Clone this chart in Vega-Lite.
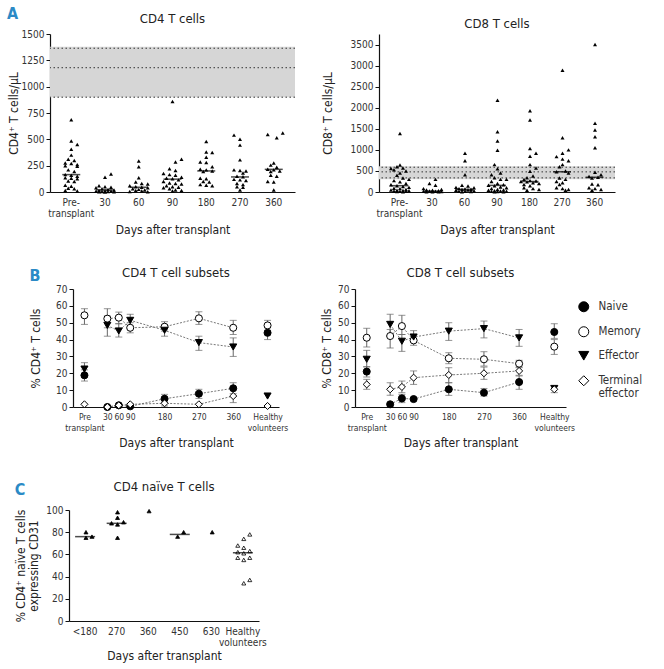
{
  "$schema": "https://vega.github.io/schema/vega-lite/v6.json",
  "background": "white",
  "padding": {"left": 7, "top": 6, "right": 5, "bottom": 5},
  "config": {
    "view": {"stroke": null},
    "font": "DejaVu Sans Condensed, Liberation Sans Narrow, Liberation Sans, sans-serif",
    "axis": {"grid": false, "domainColor": "#111", "tickColor": "#111", "labelColor": "#333", "labelFontSize": 10, "titleFontSize": 12, "titleFontWeight": "normal", "titleColor": "#222", "tickSize": 4, "labelPadding": 2, "domainWidth": 1.2, "labelOverlap": false},
    "axisX": {"ticks": false, "labelPadding": 5, "labelLineHeight": 11, "labelAngle": 0, "titlePadding": 6},
    "title": {"fontSize": 13, "fontWeight": "normal", "color": "#222"}
  },
  "resolve": {"scale": {"fill": "independent", "shape": "independent", "stroke": "independent"}, "legend": {"fill": "independent", "shape": "independent", "stroke": "independent"}},
  "spacing": 32,
  "vconcat": [
    {
      "title": {"text": "A", "anchor": "start", "frame": "bounds", "fontSize": 16, "fontWeight": "bold", "color": "#2b8ac6", "offset": -9},
      "spacing": 25,
      "hconcat": [
        {
          "width": 245, "height": 158,
          "title": {"text": "CD4 T cells", "offset": 3},
          "encoding": {"y": {"field": "value", "type": "quantitative", "scale": {"domain": [0, 1500], "nice": false}, "axis": {"values": [0, 250, 500, 750, 1000, 1250, 1500], "format": "d", "title": "CD4⁺ T cells/μL", "titlePadding": 1}}},
          "layer": [
            {"data": {"values": [{"value": 900, "value2": 1380}]}, "mark": {"type": "rect", "color": "#d6d6d6"}, "encoding": {"y2": {"field": "value2"}}},
            {"data": {"values": [{"value": 900}, {"value": 1180}, {"value": 1365}]}, "mark": {"type": "rule", "color": "#333", "strokeDash": [1.5, 2.5], "strokeWidth": 1}, "encoding": {}},
            {
              "data": {"values": [
                {"d": "Pre", "value": 685, "s": 0}, {"d": "Pre", "value": 485, "s": 0}, {"d": "Pre", "value": 450, "s": 2}, {"d": "Pre", "value": 405, "s": 0}, {"d": "Pre", "value": 350, "s": 0}, {"d": "Pre", "value": 310, "s": -1}, {"d": "Pre", "value": 300, "s": 1}, {"d": "Pre", "value": 275, "s": -2}, {"d": "Pre", "value": 270, "s": 0}, {"d": "Pre", "value": 260, "s": 2}, {"d": "Pre", "value": 250, "s": -2}, {"d": "Pre", "value": 245, "s": 2}, {"d": "Pre", "value": 210, "s": -1}, {"d": "Pre", "value": 195, "s": 1}, {"d": "Pre", "value": 165, "s": -2}, {"d": "Pre", "value": 160, "s": 0}, {"d": "Pre", "value": 150, "s": 2}, {"d": "Pre", "value": 135, "s": -2}, {"d": "Pre", "value": 130, "s": 0}, {"d": "Pre", "value": 125, "s": 2}, {"d": "Pre", "value": 105, "s": -1}, {"d": "Pre", "value": 100, "s": 1}, {"d": "Pre", "value": 65, "s": -2}, {"d": "Pre", "value": 55, "s": 0}, {"d": "Pre", "value": 35, "s": -1}, {"d": "Pre", "value": 30, "s": 1}, {"d": "Pre", "value": 15, "s": -2}, {"d": "Pre", "value": 10, "s": 2},
                {"d": "30", "value": 170, "s": 2}, {"d": "30", "value": 140, "s": 0}, {"d": "30", "value": 60, "s": -2}, {"d": "30", "value": 50, "s": 0}, {"d": "30", "value": 45, "s": 2}, {"d": "30", "value": 40, "s": -3}, {"d": "30", "value": 30, "s": -1}, {"d": "30", "value": 25, "s": 1}, {"d": "30", "value": 20, "s": 3}, {"d": "30", "value": 15, "s": -2}, {"d": "30", "value": 12, "s": 0}, {"d": "30", "value": 10, "s": 2}, {"d": "30", "value": 8, "s": -3}, {"d": "30", "value": 5, "s": -1}, {"d": "30", "value": 5, "s": 1}, {"d": "30", "value": 3, "s": 3}, {"d": "30", "value": 2, "s": -2}, {"d": "30", "value": 0, "s": 0},
                {"d": "60", "value": 295, "s": 0}, {"d": "60", "value": 240, "s": 0}, {"d": "60", "value": 135, "s": 0}, {"d": "60", "value": 95, "s": -1}, {"d": "60", "value": 80, "s": 1}, {"d": "60", "value": 75, "s": 3}, {"d": "60", "value": 60, "s": -3}, {"d": "60", "value": 50, "s": -1}, {"d": "60", "value": 45, "s": 1}, {"d": "60", "value": 40, "s": 3}, {"d": "60", "value": 30, "s": -2}, {"d": "60", "value": 25, "s": 0}, {"d": "60", "value": 20, "s": 2}, {"d": "60", "value": 15, "s": -1}, {"d": "60", "value": 10, "s": 1}, {"d": "60", "value": 5, "s": -3}, {"d": "60", "value": 3, "s": 3},
                {"d": "90", "value": 860, "s": 0}, {"d": "90", "value": 310, "s": 3}, {"d": "90", "value": 285, "s": 1}, {"d": "90", "value": 220, "s": -1}, {"d": "90", "value": 205, "s": 1}, {"d": "90", "value": 175, "s": -3}, {"d": "90", "value": 165, "s": -1}, {"d": "90", "value": 160, "s": 1}, {"d": "90", "value": 140, "s": 3}, {"d": "90", "value": 130, "s": -2}, {"d": "90", "value": 125, "s": 0}, {"d": "90", "value": 115, "s": 2}, {"d": "90", "value": 100, "s": -3}, {"d": "90", "value": 85, "s": -1}, {"d": "90", "value": 80, "s": 1}, {"d": "90", "value": 75, "s": 3}, {"d": "90", "value": 60, "s": -2}, {"d": "90", "value": 50, "s": 0}, {"d": "90", "value": 45, "s": 2}, {"d": "90", "value": 40, "s": -3}, {"d": "90", "value": 30, "s": -1}, {"d": "90", "value": 20, "s": 1}, {"d": "90", "value": 15, "s": 3}, {"d": "90", "value": 10, "s": 0},
                {"d": "180", "value": 480, "s": 0}, {"d": "180", "value": 380, "s": 0}, {"d": "180", "value": 375, "s": 2}, {"d": "180", "value": 330, "s": 0}, {"d": "180", "value": 285, "s": -2}, {"d": "180", "value": 280, "s": 0}, {"d": "180", "value": 240, "s": 2}, {"d": "180", "value": 215, "s": -2}, {"d": "180", "value": 210, "s": 0}, {"d": "180", "value": 200, "s": 2}, {"d": "180", "value": 195, "s": -1}, {"d": "180", "value": 130, "s": -2}, {"d": "180", "value": 125, "s": 0}, {"d": "180", "value": 100, "s": -1}, {"d": "180", "value": 95, "s": 1}, {"d": "180", "value": 70, "s": -2}, {"d": "180", "value": 65, "s": 0}, {"d": "180", "value": 60, "s": 2},
                {"d": "270", "value": 540, "s": -2}, {"d": "270", "value": 500, "s": 0}, {"d": "270", "value": 445, "s": 0}, {"d": "270", "value": 305, "s": 0}, {"d": "270", "value": 210, "s": -2}, {"d": "270", "value": 205, "s": 0}, {"d": "270", "value": 200, "s": 2}, {"d": "270", "value": 180, "s": 1}, {"d": "270", "value": 150, "s": -1}, {"d": "270", "value": 145, "s": 1}, {"d": "270", "value": 120, "s": -2}, {"d": "270", "value": 115, "s": 0}, {"d": "270", "value": 110, "s": 2}, {"d": "270", "value": 80, "s": -1}, {"d": "270", "value": 70, "s": 1}, {"d": "270", "value": 50, "s": -1}, {"d": "270", "value": 45, "s": 1}, {"d": "270", "value": 20, "s": 0},
                {"d": "360", "value": 560, "s": 3}, {"d": "360", "value": 545, "s": -2}, {"d": "360", "value": 515, "s": 1}, {"d": "360", "value": 275, "s": 0}, {"d": "360", "value": 255, "s": -1}, {"d": "360", "value": 235, "s": 1}, {"d": "360", "value": 215, "s": -2}, {"d": "360", "value": 210, "s": 0}, {"d": "360", "value": 200, "s": 2}, {"d": "360", "value": 195, "s": -1}, {"d": "360", "value": 160, "s": -1}, {"d": "360", "value": 150, "s": 1}, {"d": "360", "value": 100, "s": -2}, {"d": "360", "value": 95, "s": 0}, {"d": "360", "value": 20, "s": 0}
              ]},
              "mark": {"type": "point", "shape": "triangle-up", "filled": true, "color": "#000", "opacity": 1, "size": 16},
              "encoding": {
                "x": {"field": "d", "type": "nominal", "sort": ["Pre", "30", "60", "90", "180", "270", "360"], "scale": {"paddingInner": 0.2, "paddingOuter": 0.23}, "axis": {"title": "Days after transplant", "labelExpr": "datum.value == 'Pre' ? ['Pre-', 'transplant'] : datum.label"}},
                "xOffset": {"field": "s", "type": "ordinal", "scale": {"domain": [-4, -3, -2, -1, 0, 1, 2, 3, 4]}}
              }
            },
            {
              "data": {"values": [{"d": "Pre", "value": 165}, {"d": "30", "value": 20}, {"d": "60", "value": 45}, {"d": "90", "value": 122}, {"d": "180", "value": 200}, {"d": "270", "value": 143}, {"d": "360", "value": 215}]},
              "mark": {"type": "tick", "color": "#000", "thickness": 1.5, "size": 18, "orient": "horizontal"},
              "encoding": {"x": {"field": "d", "type": "nominal", "sort": ["Pre", "30", "60", "90", "180", "270", "360"]}}
            }
          ]
        },
        {
          "width": 236, "height": 158,
          "title": {"text": "CD8 T cells", "offset": 3, "frame": "group"},
          "encoding": {"y": {"field": "value", "type": "quantitative", "scale": {"domain": [0, 3750], "nice": false}, "axis": {"values": [0, 500, 1000, 1500, 2000, 2500, 3000, 3500], "format": "d", "title": "CD8⁺ T cells/μL", "titlePadding": 16}}},
          "layer": [
            {"data": {"values": [{"value": 300, "value2": 610}]}, "mark": {"type": "rect", "color": "#d6d6d6"}, "encoding": {"y2": {"field": "value2"}}},
            {"data": {"values": [{"value": 335}, {"value": 478}, {"value": 588}]}, "mark": {"type": "rule", "color": "#333", "strokeDash": [1.5, 2.5], "strokeWidth": 1}, "encoding": {}},
            {
              "data": {"values": [
                {"d": "Pre", "value": 1390, "s": 0}, {"d": "Pre", "value": 640, "s": 0}, {"d": "Pre", "value": 600, "s": -1}, {"d": "Pre", "value": 570, "s": 1}, {"d": "Pre", "value": 560, "s": -3}, {"d": "Pre", "value": 530, "s": -2}, {"d": "Pre", "value": 500, "s": 2}, {"d": "Pre", "value": 450, "s": 0}, {"d": "Pre", "value": 400, "s": -1}, {"d": "Pre", "value": 330, "s": 1}, {"d": "Pre", "value": 300, "s": 3}, {"d": "Pre", "value": 270, "s": -2}, {"d": "Pre", "value": 240, "s": 0}, {"d": "Pre", "value": 200, "s": 2}, {"d": "Pre", "value": 170, "s": -3}, {"d": "Pre", "value": 150, "s": -1}, {"d": "Pre", "value": 130, "s": 1}, {"d": "Pre", "value": 110, "s": 3}, {"d": "Pre", "value": 90, "s": -2}, {"d": "Pre", "value": 80, "s": 0}, {"d": "Pre", "value": 60, "s": 2}, {"d": "Pre", "value": 50, "s": -3}, {"d": "Pre", "value": 40, "s": -1}, {"d": "Pre", "value": 35, "s": 1}, {"d": "Pre", "value": 30, "s": 3}, {"d": "Pre", "value": 25, "s": -2}, {"d": "Pre", "value": 20, "s": 0}, {"d": "Pre", "value": 15, "s": 2}, {"d": "Pre", "value": 10, "s": -1}, {"d": "Pre", "value": 5, "s": 1},
                {"d": "30", "value": 300, "s": 1}, {"d": "30", "value": 200, "s": -1}, {"d": "30", "value": 160, "s": 1}, {"d": "30", "value": 80, "s": -3}, {"d": "30", "value": 60, "s": 3}, {"d": "30", "value": 50, "s": -2}, {"d": "30", "value": 40, "s": 0}, {"d": "30", "value": 30, "s": 2}, {"d": "30", "value": 25, "s": -1}, {"d": "30", "value": 20, "s": 1}, {"d": "30", "value": 15, "s": -3}, {"d": "30", "value": 10, "s": 3}, {"d": "30", "value": 8, "s": -2}, {"d": "30", "value": 5, "s": 0}, {"d": "30", "value": 3, "s": 2},
                {"d": "60", "value": 920, "s": 0}, {"d": "60", "value": 740, "s": 0}, {"d": "60", "value": 410, "s": 0}, {"d": "60", "value": 160, "s": -1}, {"d": "60", "value": 140, "s": 1}, {"d": "60", "value": 110, "s": -3}, {"d": "60", "value": 100, "s": 3}, {"d": "60", "value": 80, "s": -2}, {"d": "60", "value": 70, "s": 0}, {"d": "60", "value": 65, "s": 2}, {"d": "60", "value": 60, "s": -1}, {"d": "60", "value": 50, "s": 1}, {"d": "60", "value": 40, "s": -3}, {"d": "60", "value": 30, "s": 3}, {"d": "60", "value": 20, "s": -2}, {"d": "60", "value": 15, "s": 0}, {"d": "60", "value": 10, "s": 2}, {"d": "60", "value": 5, "s": -1},
                {"d": "90", "value": 2180, "s": 0}, {"d": "90", "value": 1430, "s": 0}, {"d": "90", "value": 1210, "s": 0}, {"d": "90", "value": 990, "s": 0}, {"d": "90", "value": 650, "s": -1}, {"d": "90", "value": 550, "s": 0}, {"d": "90", "value": 450, "s": 1}, {"d": "90", "value": 410, "s": -2}, {"d": "90", "value": 340, "s": -1}, {"d": "90", "value": 300, "s": 1}, {"d": "90", "value": 300, "s": 3}, {"d": "90", "value": 250, "s": -2}, {"d": "90", "value": 200, "s": 0}, {"d": "90", "value": 170, "s": 2}, {"d": "90", "value": 160, "s": -3}, {"d": "90", "value": 150, "s": -1}, {"d": "90", "value": 120, "s": 1}, {"d": "90", "value": 100, "s": 3}, {"d": "90", "value": 80, "s": -2}, {"d": "90", "value": 60, "s": 0}, {"d": "90", "value": 50, "s": 2}, {"d": "90", "value": 40, "s": -3}, {"d": "90", "value": 30, "s": -1}, {"d": "90", "value": 25, "s": 1}, {"d": "90", "value": 20, "s": 3}, {"d": "90", "value": 15, "s": -2}, {"d": "90", "value": 10, "s": 0}, {"d": "90", "value": 5, "s": 2}, {"d": "90", "value": 3, "s": -1},
                {"d": "180", "value": 1930, "s": 0}, {"d": "180", "value": 1710, "s": 0}, {"d": "180", "value": 1030, "s": 0}, {"d": "180", "value": 920, "s": 2}, {"d": "180", "value": 850, "s": 0}, {"d": "180", "value": 650, "s": 0}, {"d": "180", "value": 570, "s": 2}, {"d": "180", "value": 490, "s": 0}, {"d": "180", "value": 380, "s": 1}, {"d": "180", "value": 340, "s": -1}, {"d": "180", "value": 300, "s": -2}, {"d": "180", "value": 270, "s": 0}, {"d": "180", "value": 260, "s": 2}, {"d": "180", "value": 250, "s": -3}, {"d": "180", "value": 240, "s": -1}, {"d": "180", "value": 220, "s": 1}, {"d": "180", "value": 200, "s": 3}, {"d": "180", "value": 180, "s": -2}, {"d": "180", "value": 150, "s": 0}, {"d": "180", "value": 100, "s": -2}, {"d": "180", "value": 80, "s": 1}, {"d": "180", "value": 60, "s": 3}, {"d": "180", "value": 40, "s": -1},
                {"d": "270", "value": 2890, "s": 0}, {"d": "270", "value": 1290, "s": 0}, {"d": "270", "value": 1000, "s": 2}, {"d": "270", "value": 920, "s": 0}, {"d": "270", "value": 840, "s": -2}, {"d": "270", "value": 780, "s": 0}, {"d": "270", "value": 740, "s": 2}, {"d": "270", "value": 650, "s": 0}, {"d": "270", "value": 600, "s": -1}, {"d": "270", "value": 500, "s": 1}, {"d": "270", "value": 480, "s": -2}, {"d": "270", "value": 450, "s": 2}, {"d": "270", "value": 330, "s": -1}, {"d": "270", "value": 300, "s": 1}, {"d": "270", "value": 250, "s": -2}, {"d": "270", "value": 220, "s": 0}, {"d": "270", "value": 180, "s": -1}, {"d": "270", "value": 100, "s": -2}, {"d": "270", "value": 80, "s": 0}, {"d": "270", "value": 60, "s": 2}, {"d": "270", "value": 40, "s": 1},
                {"d": "360", "value": 3500, "s": 0}, {"d": "360", "value": 1630, "s": 0}, {"d": "360", "value": 1470, "s": 0}, {"d": "360", "value": 1310, "s": 0}, {"d": "360", "value": 1050, "s": 0}, {"d": "360", "value": 470, "s": 0}, {"d": "360", "value": 410, "s": 2}, {"d": "360", "value": 370, "s": -2}, {"d": "360", "value": 350, "s": 1}, {"d": "360", "value": 330, "s": -1}, {"d": "360", "value": 190, "s": -1}, {"d": "360", "value": 170, "s": 1}, {"d": "360", "value": 100, "s": -2}, {"d": "360", "value": 80, "s": 0}, {"d": "360", "value": 60, "s": 2}, {"d": "360", "value": 40, "s": -1}
              ]},
              "mark": {"type": "point", "shape": "triangle-up", "filled": true, "color": "#000", "opacity": 1, "size": 16},
              "encoding": {
                "x": {"field": "d", "type": "nominal", "sort": ["Pre", "30", "60", "90", "180", "270", "360"], "scale": {"paddingInner": 0.2, "paddingOuter": 0.23}, "axis": {"title": "Days after transplant", "labelExpr": "datum.value == 'Pre' ? ['Pre-', 'transplant'] : datum.label"}},
                "xOffset": {"field": "s", "type": "ordinal", "scale": {"domain": [-4, -3, -2, -1, 0, 1, 2, 3, 4]}}
              }
            },
            {
              "data": {"values": [{"d": "Pre", "value": 150}, {"d": "30", "value": 20}, {"d": "60", "value": 63}, {"d": "90", "value": 157}, {"d": "180", "value": 250}, {"d": "270", "value": 480}, {"d": "360", "value": 350}]},
              "mark": {"type": "tick", "color": "#000", "thickness": 1.5, "size": 18, "orient": "horizontal"},
              "encoding": {"x": {"field": "d", "type": "nominal", "sort": ["Pre", "30", "60", "90", "180", "270", "360"]}}
            }
          ]
        }
      ]
    },
    {
      "title": {"text": "B", "anchor": "start", "frame": "bounds", "fontSize": 16, "fontWeight": "bold", "color": "#2b8ac6", "offset": -17},
      "spacing": -25,
      "resolve": {"scale": {"fill": "independent", "shape": "independent", "stroke": "independent"}, "legend": {"fill": "independent", "shape": "independent", "stroke": "independent"}},
      "hconcat": [
        {"width": 1, "height": 1, "data": {"values": [{"v": 0}]}, "mark": {"type": "point", "opacity": 0}, "encoding": {}},
        {
          "spacing": 32,
          "resolve": {"scale": {"fill": "independent", "shape": "independent", "stroke": "independent"}, "legend": {"fill": "independent", "shape": "independent", "stroke": "independent"}},
          "hconcat": [
            {
              "width": 206, "height": 118,
              "title": {"text": "CD4 T cell subsets", "offset": 4},
              "data": {"values": [
                {"subset": "Memory", "day": -30, "mean": 54.4, "lo": 49.0, "hi": 58.3},
                {"subset": "Memory", "day": 30, "mean": 52.4, "lo": 47.0, "hi": 58.3},
                {"subset": "Memory", "day": 60, "mean": 53.0, "lo": 49.4, "hi": 56.3},
                {"subset": "Memory", "day": 90, "mean": 47.0, "lo": 44.0, "hi": 50.0},
                {"subset": "Memory", "day": 180, "mean": 47.6, "lo": 45.0, "hi": 50.6},
                {"subset": "Memory", "day": 270, "mean": 52.6, "lo": 49.0, "hi": 56.5},
                {"subset": "Memory", "day": 360, "mean": 47.0, "lo": 43.0, "hi": 51.4},
                {"subset": "Memory", "day": 450, "mean": 48.4, "lo": 45.5, "hi": 51.4},
                {"subset": "Effector", "day": -30, "mean": 22.5, "lo": 19.4, "hi": 26.3},
                {"subset": "Effector", "day": 30, "mean": 48.4, "lo": 42.0, "hi": 54.0},
                {"subset": "Effector", "day": 60, "mean": 45.1, "lo": 41.5, "hi": 49.4},
                {"subset": "Effector", "day": 90, "mean": 51.4, "lo": 47.0, "hi": 55.0},
                {"subset": "Effector", "day": 180, "mean": 45.5, "lo": 42.0, "hi": 48.4},
                {"subset": "Effector", "day": 270, "mean": 38.2, "lo": 33.6, "hi": 42.0},
                {"subset": "Effector", "day": 360, "mean": 35.6, "lo": 30.0, "hi": 41.0},
                {"subset": "Effector", "day": 450, "mean": 6.5, "lo": null, "hi": null},
                {"subset": "Naive", "day": -30, "mean": 18.8, "lo": 15.4, "hi": 22.0},
                {"subset": "Naive", "day": 30, "mean": 0.0, "lo": null, "hi": null},
                {"subset": "Naive", "day": 60, "mean": 1.0, "lo": null, "hi": null},
                {"subset": "Naive", "day": 90, "mean": 0.4, "lo": null, "hi": null},
                {"subset": "Naive", "day": 180, "mean": 4.9, "lo": 2.6, "hi": 7.5},
                {"subset": "Naive", "day": 270, "mean": 7.9, "lo": 5.1, "hi": 10.5},
                {"subset": "Naive", "day": 360, "mean": 11.1, "lo": 7.9, "hi": 14.4},
                {"subset": "Naive", "day": 450, "mean": 44.0, "lo": 40.0, "hi": 47.0},
                {"subset": "Terminal effector", "day": -30, "mean": 1.6, "lo": null, "hi": null},
                {"subset": "Terminal effector", "day": 30, "mean": 0.0, "lo": null, "hi": null},
                {"subset": "Terminal effector", "day": 60, "mean": 1.0, "lo": null, "hi": null},
                {"subset": "Terminal effector", "day": 90, "mean": 1.6, "lo": null, "hi": null},
                {"subset": "Terminal effector", "day": 180, "mean": 2.2, "lo": 0.6, "hi": 4.6},
                {"subset": "Terminal effector", "day": 270, "mean": 1.6, "lo": null, "hi": null},
                {"subset": "Terminal effector", "day": 360, "mean": 6.5, "lo": 2.6, "hi": 10.5},
                {"subset": "Terminal effector", "day": 450, "mean": 0.6, "lo": null, "hi": null}
              ]},
              "encoding": {
                "x": {"field": "day", "type": "quantitative", "scale": {"domain": [-60, 480], "nice": false, "zero": false}, "axis": {"values": [-30, 30, 60, 90, 180, 270, 360, 450], "labelFontSize": 8.5, "title": "Days after transplant", "labelExpr": "datum.value == -30 ? ['Pre', 'transplant'] : datum.value == 450 ? ['Healthy', 'volunteers'] : datum.label"}}
              },
              "layer": [
                {"transform": [{"filter": "datum.day >= 30 && datum.day <= 360"}], "mark": {"type": "line", "color": "#555", "strokeWidth": 0.8, "strokeDash": [2, 1.5]}, "encoding": {"y": {"field": "mean", "type": "quantitative", "scale": {"domain": [0, 70], "nice": false}, "axis": {"values": [0, 10, 20, 30, 40, 50, 60, 70], "title": "% CD4⁺ T cells", "titlePadding": 13}}, "detail": {"field": "subset"}}},
                {"transform": [{"filter": "datum.lo != null"}], "mark": {"type": "rule", "color": "#666", "strokeWidth": 1}, "encoding": {"y": {"field": "lo", "type": "quantitative", "scale": {"domain": [0, 70], "nice": false}, "axis": {"values": [0, 10, 20, 30, 40, 50, 60, 70], "title": "% CD4⁺ T cells", "titlePadding": 13}}, "y2": {"field": "hi"}}},
                {"transform": [{"filter": "datum.lo != null"}], "mark": {"type": "tick", "orient": "horizontal", "color": "#666", "size": 7, "thickness": 1}, "encoding": {"y": {"field": "lo", "type": "quantitative", "scale": {"domain": [0, 70], "nice": false}, "axis": {"values": [0, 10, 20, 30, 40, 50, 60, 70], "title": "% CD4⁺ T cells", "titlePadding": 13}}}},
                {"transform": [{"filter": "datum.lo != null"}], "mark": {"type": "tick", "orient": "horizontal", "color": "#666", "size": 7, "thickness": 1}, "encoding": {"y": {"field": "hi", "type": "quantitative", "scale": {"domain": [0, 70], "nice": false}, "axis": {"values": [0, 10, 20, 30, 40, 50, 60, 70], "title": "% CD4⁺ T cells", "titlePadding": 13}}}},
                {"mark": {"type": "point", "filled": true, "strokeWidth": 1, "size": 50, "opacity": 1},
                 "encoding": {
                   "y": {"field": "mean", "type": "quantitative", "scale": {"domain": [0, 70], "nice": false}, "axis": {"values": [0, 10, 20, 30, 40, 50, 60, 70], "title": "% CD4⁺ T cells", "titlePadding": 13}},
                   "shape": {"field": "subset", "type": "nominal", "scale": {"domain": ["Naive", "Memory", "Effector", "Terminal effector"], "range": ["circle", "circle", "triangle-down", "diamond"]}, "legend": null},
                   "fill": {"field": "subset", "type": "nominal", "scale": {"domain": ["Naive", "Memory", "Effector", "Terminal effector"], "range": ["#000", "#fff", "#000", "#fff"]}, "legend": null},
                   "stroke": {"field": "subset", "type": "nominal", "scale": {"domain": ["Naive", "Memory", "Effector", "Terminal effector"], "range": ["#000", "#000", "#000", "#000"]}, "legend": null}
                 }}
              ]
            },
            {
              "width": 211, "height": 118,
              "title": {"text": "CD8 T cell subsets", "offset": 4},
              "data": {"values": [
                {"subset": "Memory", "day": -30, "mean": 41.1, "lo": 35.6, "hi": 46.7},
                {"subset": "Memory", "day": 30, "mean": 42.1, "lo": 35.0, "hi": 46.0},
                {"subset": "Memory", "day": 60, "mean": 48.0, "lo": 43.0, "hi": 54.4},
                {"subset": "Memory", "day": 90, "mean": 39.5, "lo": 36.6, "hi": 43.0},
                {"subset": "Memory", "day": 180, "mean": 28.9, "lo": 25.7, "hi": 32.2},
                {"subset": "Memory", "day": 270, "mean": 28.3, "lo": 24.3, "hi": 32.8},
                {"subset": "Memory", "day": 360, "mean": 25.7, "lo": 23.3, "hi": 27.7},
                {"subset": "Memory", "day": 450, "mean": 35.8, "lo": 31.2, "hi": 40.0},
                {"subset": "Effector", "day": -30, "mean": 28.3, "lo": 23.7, "hi": 33.6},
                {"subset": "Effector", "day": 30, "mean": 49.0, "lo": 42.0, "hi": 55.0},
                {"subset": "Effector", "day": 60, "mean": 39.0, "lo": 33.0, "hi": 43.0},
                {"subset": "Effector", "day": 90, "mean": 41.5, "lo": 39.4, "hi": 45.3},
                {"subset": "Effector", "day": 180, "mean": 45.0, "lo": 39.5, "hi": 50.0},
                {"subset": "Effector", "day": 270, "mean": 46.5, "lo": 41.0, "hi": 51.0},
                {"subset": "Effector", "day": 360, "mean": 41.0, "lo": 36.0, "hi": 46.0},
                {"subset": "Effector", "day": 450, "mean": 11.0, "lo": null, "hi": null},
                {"subset": "Naive", "day": -30, "mean": 21.0, "lo": 17.8, "hi": 24.0},
                {"subset": "Naive", "day": 30, "mean": 1.6, "lo": null, "hi": null},
                {"subset": "Naive", "day": 60, "mean": 5.1, "lo": 2.6, "hi": 7.5},
                {"subset": "Naive", "day": 90, "mean": 4.7, "lo": null, "hi": null},
                {"subset": "Naive", "day": 180, "mean": 10.5, "lo": 6.9, "hi": 14.4},
                {"subset": "Naive", "day": 270, "mean": 8.5, "lo": 6.5, "hi": 11.0},
                {"subset": "Naive", "day": 360, "mean": 14.8, "lo": 10.5, "hi": 18.4},
                {"subset": "Naive", "day": 450, "mean": 44.5, "lo": 40.7, "hi": 49.4},
                {"subset": "Terminal effector", "day": -30, "mean": 13.4, "lo": 10.5, "hi": 16.4},
                {"subset": "Terminal effector", "day": 30, "mean": 10.5, "lo": 6.9, "hi": 14.4},
                {"subset": "Terminal effector", "day": 60, "mean": 11.9, "lo": 8.5, "hi": 15.4},
                {"subset": "Terminal effector", "day": 90, "mean": 17.4, "lo": 13.4, "hi": 21.4},
                {"subset": "Terminal effector", "day": 180, "mean": 19.0, "lo": 14.4, "hi": 23.3},
                {"subset": "Terminal effector", "day": 270, "mean": 20.0, "lo": 16.4, "hi": 23.7},
                {"subset": "Terminal effector", "day": 360, "mean": 21.4, "lo": 18.8, "hi": 23.7},
                {"subset": "Terminal effector", "day": 450, "mean": 10.5, "lo": 8.5, "hi": 12.5}
              ]},
              "encoding": {
                "x": {"field": "day", "type": "quantitative", "scale": {"domain": [-60, 480], "nice": false, "zero": false}, "axis": {"values": [-30, 30, 60, 90, 180, 270, 360, 450], "labelFontSize": 8.5, "title": "Days after transplant", "labelExpr": "datum.value == -30 ? ['Pre', 'transplant'] : datum.value == 450 ? ['Healthy', 'volunteers'] : datum.label"}}
              },
              "layer": [
                {"transform": [{"filter": "datum.day >= 30 && datum.day <= 360"}], "mark": {"type": "line", "color": "#555", "strokeWidth": 0.8, "strokeDash": [2, 1.5]}, "encoding": {"y": {"field": "mean", "type": "quantitative", "scale": {"domain": [0, 70], "nice": false}, "axis": {"values": [0, 10, 20, 30, 40, 50, 60, 70], "title": "% CD8⁺ T cells", "titlePadding": 4}}, "detail": {"field": "subset"}}},
                {"transform": [{"filter": "datum.lo != null"}], "mark": {"type": "rule", "color": "#666", "strokeWidth": 1}, "encoding": {"y": {"field": "lo", "type": "quantitative", "scale": {"domain": [0, 70], "nice": false}, "axis": {"values": [0, 10, 20, 30, 40, 50, 60, 70], "title": "% CD8⁺ T cells", "titlePadding": 4}}, "y2": {"field": "hi"}}},
                {"transform": [{"filter": "datum.lo != null"}], "mark": {"type": "tick", "orient": "horizontal", "color": "#666", "size": 7, "thickness": 1}, "encoding": {"y": {"field": "lo", "type": "quantitative", "scale": {"domain": [0, 70], "nice": false}, "axis": {"values": [0, 10, 20, 30, 40, 50, 60, 70], "title": "% CD8⁺ T cells", "titlePadding": 4}}}},
                {"transform": [{"filter": "datum.lo != null"}], "mark": {"type": "tick", "orient": "horizontal", "color": "#666", "size": 7, "thickness": 1}, "encoding": {"y": {"field": "hi", "type": "quantitative", "scale": {"domain": [0, 70], "nice": false}, "axis": {"values": [0, 10, 20, 30, 40, 50, 60, 70], "title": "% CD8⁺ T cells", "titlePadding": 4}}}},
                {"mark": {"type": "point", "filled": true, "strokeWidth": 1, "size": 50, "opacity": 1},
                 "encoding": {
                   "y": {"field": "mean", "type": "quantitative", "scale": {"domain": [0, 70], "nice": false}, "axis": {"values": [0, 10, 20, 30, 40, 50, 60, 70], "title": "% CD8⁺ T cells", "titlePadding": 4}},
                   "shape": {"field": "subset", "type": "nominal", "scale": {"domain": ["Naive", "Memory", "Effector", "Terminal effector"], "range": ["circle", "circle", "triangle-down", "diamond"]}, "legend": {"title": null, "orient": "right", "offset": 0, "padding": 12, "labelExpr": "datum.label == 'Terminal effector' ? ['Terminal', 'effector'] : datum.label", "symbolSize": 100, "symbolStrokeWidth": 1, "labelFontSize": 11.5, "labelColor": "#333", "labelOffset": 9, "labelLineHeight": 12, "rowPadding": 10}},
                   "fill": {"field": "subset", "type": "nominal", "scale": {"domain": ["Naive", "Memory", "Effector", "Terminal effector"], "range": ["#000", "#fff", "#000", "#fff"]}, "legend": {"title": null, "orient": "right", "offset": 0, "padding": 12, "labelExpr": "datum.label == 'Terminal effector' ? ['Terminal', 'effector'] : datum.label", "symbolSize": 100, "symbolStrokeWidth": 1, "labelFontSize": 11.5, "labelColor": "#333", "labelOffset": 9, "labelLineHeight": 12, "rowPadding": 10}},
                   "stroke": {"field": "subset", "type": "nominal", "scale": {"domain": ["Naive", "Memory", "Effector", "Terminal effector"], "range": ["#000", "#000", "#000", "#000"]}, "legend": {"title": null, "orient": "right", "offset": 0, "padding": 12, "labelExpr": "datum.label == 'Terminal effector' ? ['Terminal', 'effector'] : datum.label", "symbolSize": 100, "symbolStrokeWidth": 1, "labelFontSize": 11.5, "labelColor": "#333", "labelOffset": 9, "labelLineHeight": 12, "rowPadding": 10}}
                 }}
              ]
            }
          ]
        }
      ]
    },
    {
      "title": {"text": "C", "anchor": "start", "frame": "bounds", "fontSize": 16, "fontWeight": "bold", "color": "#2b8ac6", "offset": -17},
      "spacing": -40,
      "hconcat": [
        {"width": 1, "height": 1, "data": {"values": [{"v": 0}]}, "mark": {"type": "point", "opacity": 0}, "encoding": {}},
        {
          "width": 190, "height": 111,
          "title": {"text": "CD4 naïve T cells", "offset": 11},
          "encoding": {"y": {"field": "value", "type": "quantitative", "scale": {"domain": [0, 100], "nice": false}, "axis": {"values": [0, 20, 40, 60, 80, 100], "title": ["% CD4⁺ naïve T cells", "expressing CD31"], "titlePadding": 5, "titleLineHeight": 13}}},
          "layer": [
            {
              "data": {"values": [
                {"d": "<180", "g": "post", "value": 80, "s": 0}, {"d": "<180", "g": "post", "value": 75, "s": 0}, {"d": "<180", "g": "post", "value": 76, "s": 2},
                {"d": "270", "g": "post", "value": 98, "s": 0}, {"d": "270", "g": "post", "value": 93, "s": 0}, {"d": "270", "g": "post", "value": 88, "s": -2}, {"d": "270", "g": "post", "value": 87, "s": 0}, {"d": "270", "g": "post", "value": 89, "s": 2}, {"d": "270", "g": "post", "value": 75, "s": 0},
                {"d": "360", "g": "post", "value": 99, "s": 0},
                {"d": "450", "g": "post", "value": 76, "s": -1}, {"d": "450", "g": "post", "value": 80, "s": 1},
                {"d": "630", "g": "post", "value": 80, "s": 0},
                {"d": "Healthy", "g": "hv", "value": 78, "s": 2}, {"d": "Healthy", "g": "hv", "value": 74, "s": 0}, {"d": "Healthy", "g": "hv", "value": 68, "s": -2}, {"d": "Healthy", "g": "hv", "value": 66, "s": 0}, {"d": "Healthy", "g": "hv", "value": 63, "s": 2}, {"d": "Healthy", "g": "hv", "value": 62, "s": -2}, {"d": "Healthy", "g": "hv", "value": 61, "s": 0}, {"d": "Healthy", "g": "hv", "value": 57, "s": -2}, {"d": "Healthy", "g": "hv", "value": 57, "s": 2}, {"d": "Healthy", "g": "hv", "value": 55, "s": 0}, {"d": "Healthy", "g": "hv", "value": 37, "s": 2}, {"d": "Healthy", "g": "hv", "value": 34, "s": 0}
              ]},
              "mark": {"type": "point", "shape": "triangle-up", "filled": true, "stroke": "#000", "strokeWidth": 0.8, "opacity": 1, "size": 16},
              "encoding": {
                "x": {"field": "d", "type": "nominal", "sort": ["<180", "270", "360", "450", "630", "Healthy"], "scale": {"paddingInner": 0.2, "paddingOuter": 0.11}, "axis": {"title": "Days after transplant", "titlePadding": 3, "labelExpr": "datum.value == 'Healthy' ? ['Healthy', 'volunteers'] : datum.label"}},
                "xOffset": {"field": "s", "type": "ordinal", "scale": {"domain": [-4, -3, -2, -1, 0, 1, 2, 3, 4]}},
                "fill": {"field": "g", "type": "nominal", "scale": {"domain": ["post", "hv"], "range": ["#000", "#fff"]}, "legend": null}
              }
            },
            {
              "data": {"values": [{"d": "<180", "value": 76}, {"d": "270", "value": 88}, {"d": "450", "value": 78}, {"d": "Healthy", "value": 61.5}]},
              "mark": {"type": "tick", "color": "#000", "thickness": 1.5, "size": 20, "orient": "horizontal"},
              "encoding": {"x": {"field": "d", "type": "nominal", "sort": ["<180", "270", "360", "450", "630", "Healthy"]}}
            }
          ]
        }
      ]
    }
  ]
}
